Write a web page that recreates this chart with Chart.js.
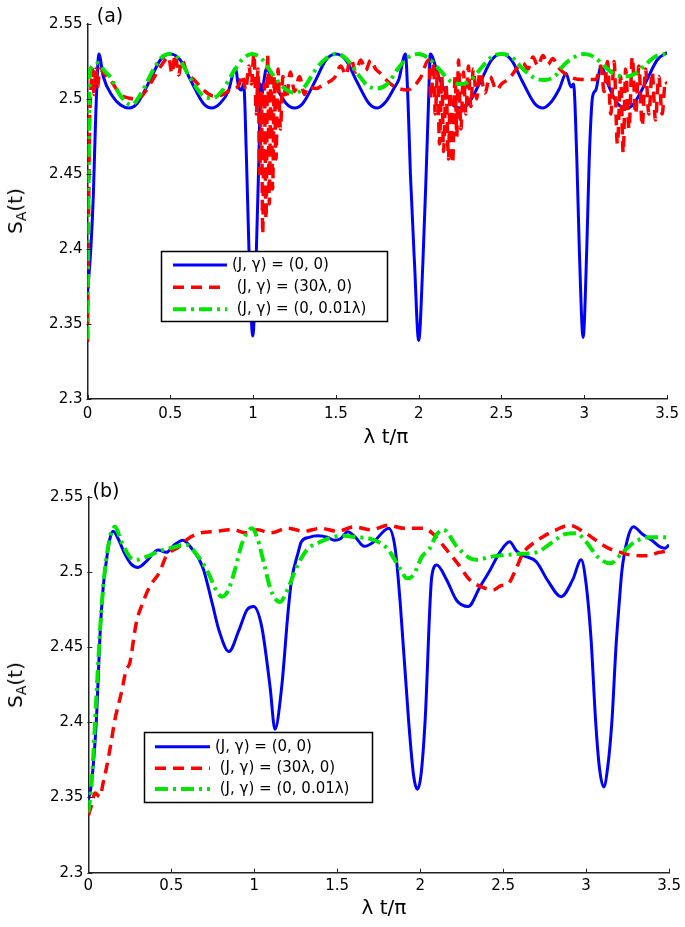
<!DOCTYPE html>
<html>
<head>
<meta charset="utf-8">
<script src="https://cdn.jsdelivr.net/npm/chart.js@4.4.0/dist/chart.umd.min.js"></script>
<style>
  body { margin: 0; background: #fff; width: 685px; height: 927px; position: relative; overflow: hidden; font-family: "DejaVu Sans", sans-serif; }
  canvas { position: absolute; left: 0; }
  .lbl { position: absolute; color: #000; white-space: nowrap; transform: translate(-50%, -50%); }
  .ylab { transform: translate(-50%, -50%) rotate(-90deg); font-size: 20px; }
  .ylab sub { font-size: 14px; vertical-align: -4px; }
</style>
</head>
<body>
<canvas id="chartA" width="685" height="460" style="top:0"></canvas>
<canvas id="chartB" width="685" height="467" style="top:460px"></canvas>

<div class="lbl" style="left:110px;top:15px;font-size:19px">(a)</div>
<div class="lbl" style="left:106px;top:490px;font-size:19px">(b)</div>
<div class="lbl" style="left:386px;top:436px;font-size:20px">λ t/π</div>
<div class="lbl" style="left:384px;top:907px;font-size:20px">λ t/π</div>
<div class="lbl ylab" style="left:16px;top:211px">S<sub>A</sub>(t)</div>
<div class="lbl ylab" style="left:16px;top:685px">S<sub>A</sub>(t)</div>

<script>
// axis ticks
const xTicks = [0, 0.5, 1, 1.5, 2, 2.5, 3, 3.5];
const xTickLabels = ['0', '0.5', '1', '1.5', '2', '2.5', '3', '3.5'];
const yTicks = [2.3, 2.35, 2.4, 2.45, 2.5, 2.55];
const yTickLabels = ['2.3', '2.35', '2.4', '2.45', '2.5', '2.55'];

const seriesLabels = ['(J, γ) = (0, 0)', ' (J, γ) = (30λ, 0)', ' (J, γ) = (0, 0.01λ)'];

// panel (a)
const aBlueT = [0, 0.02, 0.035, 0.05, 0.069, 0.095, 0.15, 0.2, 0.25, 0.3, 0.375, 0.44, 0.5, 0.56, 0.625, 0.7, 0.75, 0.8, 0.85,
  0.893, 0.913, 0.93, 0.943, 0.96, 0.975, 0.998, 1.02, 1.035, 1.045, 1.055, 1.065, 1.08, 1.13, 1.2, 1.25, 1.3, 1.375, 1.44, 1.5,
  1.56, 1.625, 1.7, 1.75, 1.8, 1.85, 1.88, 1.92, 1.935, 1.95, 1.975, 2.0, 2.025, 2.045, 2.06, 2.07, 2.12, 2.2, 2.25, 2.3, 2.375,
  2.44, 2.5, 2.56, 2.625, 2.7, 2.75, 2.8, 2.85, 2.89, 2.92, 2.935, 2.955, 2.97, 2.993, 3.015, 3.03, 3.05, 3.07, 3.1, 3.15, 3.2,
  3.26, 3.3, 3.375, 3.44, 3.5];
const aBlueS = [2.37, 2.40, 2.435, 2.49, 2.530, 2.515, 2.502, 2.496, 2.494, 2.497, 2.512, 2.526, 2.530, 2.526, 2.512, 2.497, 2.494, 2.497, 2.505,
  2.5205, 2.508, 2.506, 2.51, 2.46, 2.40, 2.342, 2.40, 2.46, 2.51, 2.503, 2.512, 2.52, 2.51, 2.497, 2.494, 2.497, 2.512, 2.526, 2.530,
  2.526, 2.512, 2.497, 2.494, 2.498, 2.507, 2.513, 2.530, 2.50, 2.45, 2.39, 2.339, 2.39, 2.45, 2.50, 2.530, 2.515, 2.497, 2.494, 2.497, 2.512,
  2.526, 2.530, 2.526, 2.512, 2.497, 2.494, 2.498, 2.507, 2.517, 2.508, 2.51, 2.46, 2.40, 2.341, 2.40, 2.46, 2.5015, 2.506, 2.5215, 2.508, 2.497,
  2.494, 2.497, 2.512, 2.526, 2.531];

const aRedT = [0, 0.006, 0.012, 0.02, 0.03, 0.04, 0.05, 0.06, 0.075, 0.1, 0.135, 0.2, 0.254, 0.3, 0.35, 0.4, 0.45, 0.49, 0.51, 0.53,
  0.55, 0.57, 0.6, 0.65, 0.7, 0.76, 0.813, 0.86, 0.913, 0.935, 0.955, 0.975, 0.99, 1.005, 1.02, 1.03, 1.04, 1.05, 1.058, 1.068,
  1.078, 1.088, 1.098, 1.108, 1.118, 1.128, 1.138, 1.15, 1.165, 1.18, 1.2, 1.225, 1.25, 1.28, 1.31, 1.33, 1.38, 1.43, 1.49, 1.53,
  1.56, 1.59, 1.62, 1.65, 1.68, 1.71, 1.74, 1.77, 1.82, 1.86, 1.93, 2.01, 2.06, 2.075, 2.09, 2.1, 2.115, 2.125, 2.14, 2.15,
  2.165, 2.18, 2.19, 2.205, 2.22, 2.23, 2.24, 2.255, 2.27, 2.285, 2.3, 2.315, 2.33, 2.35, 2.37, 2.4, 2.43, 2.47, 2.5, 2.55,
  2.59, 2.63, 2.66, 2.69, 2.72, 2.75, 2.78, 2.81, 2.84, 2.91, 2.99, 3.07, 3.1, 3.12, 3.14, 3.16, 3.18, 3.2, 3.22, 3.235,
  3.25, 3.27, 3.29, 3.31, 3.33, 3.35, 3.37, 3.39, 3.41, 3.43, 3.45, 3.47, 3.49, 3.5];
const aRedS = [2.338, 2.42, 2.48, 2.505, 2.52, 2.503, 2.52, 2.508, 2.52, 2.517, 2.513, 2.503, 2.5005, 2.5, 2.505, 2.514, 2.523, 2.528, 2.517, 2.53,
  2.516, 2.526, 2.518, 2.512, 2.506, 2.502, 2.5027, 2.506, 2.509, 2.516, 2.506, 2.522, 2.51, 2.53, 2.49, 2.52, 2.45, 2.505, 2.41, 2.51,
  2.42, 2.53, 2.43, 2.52, 2.44, 2.515, 2.46, 2.52, 2.48, 2.515, 2.5, 2.518, 2.505, 2.515, 2.503, 2.508, 2.507, 2.51, 2.514, 2.522,
  2.516, 2.527, 2.518, 2.526, 2.519, 2.526, 2.52, 2.517, 2.511, 2.508, 2.506, 2.514, 2.526, 2.50, 2.524, 2.49, 2.52, 2.47, 2.515, 2.465,
  2.51, 2.46, 2.505, 2.457, 2.515, 2.475, 2.526, 2.48, 2.518, 2.49, 2.522, 2.495, 2.52, 2.5, 2.518, 2.504, 2.515, 2.506, 2.51, 2.514,
  2.52, 2.524, 2.52, 2.528, 2.522, 2.529, 2.523, 2.527, 2.5215, 2.515, 2.513, 2.513, 2.522, 2.505, 2.525, 2.49, 2.525, 2.47, 2.515, 2.464,
  2.52, 2.48, 2.528, 2.49, 2.522, 2.482, 2.52, 2.49, 2.518, 2.486, 2.515, 2.49, 2.512, 2.51];

const aGreenT = [0, 0.005, 0.01, 0.015, 0.04, 0.065, 0.1, 0.135, 0.2, 0.265, 0.33, 0.4, 0.45, 0.494, 0.55, 0.62, 0.69, 0.753, 0.81,
  0.88, 0.94, 0.993, 1.05, 1.12, 1.19, 1.253, 1.31, 1.38, 1.44, 1.5, 1.56, 1.63, 1.69, 1.75, 1.81, 1.88, 1.94, 2.0, 2.06, 2.13,
  2.19, 2.25, 2.31, 2.38, 2.44, 2.5, 2.56, 2.63, 2.7, 2.76, 2.82, 2.88, 2.94, 3.0, 3.06, 3.13, 3.19, 3.25, 3.31, 3.38, 3.44, 3.5];
const aGreenS = [2.34, 2.42, 2.49, 2.519, 2.522, 2.524, 2.519, 2.515, 2.502, 2.496, 2.505, 2.52, 2.528, 2.53, 2.527, 2.514, 2.503, 2.5005, 2.505,
  2.518, 2.527, 2.53, 2.527, 2.516, 2.507, 2.504, 2.508, 2.52, 2.527, 2.53, 2.527, 2.517, 2.509, 2.507, 2.51, 2.521, 2.528, 2.53, 2.527, 2.519,
  2.512, 2.51, 2.512, 2.521, 2.528, 2.53, 2.528, 2.52, 2.514, 2.5127, 2.515, 2.523, 2.528, 2.53, 2.528, 2.521, 2.516, 2.515, 2.517, 2.524, 2.529, 2.53];

// panel (b)
const bBlueT = [0, 0.02, 0.05, 0.07, 0.09, 0.106, 0.13, 0.15, 0.18, 0.22, 0.26, 0.3, 0.35, 0.42, 0.47, 0.52, 0.57, 0.62, 0.69,
  0.747, 0.787, 0.847, 0.907, 0.956, 0.996, 1.045, 1.096, 1.125, 1.165, 1.205, 1.225, 1.265, 1.284, 1.33, 1.384, 1.44, 1.484,
  1.52, 1.563, 1.61, 1.663, 1.72, 1.78, 1.81, 1.85, 1.88, 1.93, 1.96, 1.983, 2.005, 2.03, 2.07, 2.1, 2.16, 2.22, 2.29, 2.36,
  2.42, 2.48, 2.539, 2.58, 2.62, 2.7, 2.77, 2.85, 2.92, 2.97, 3.0, 3.03, 3.057, 3.08, 3.106, 3.13, 3.156, 3.18, 3.2, 3.216,
  3.25, 3.285, 3.34, 3.396, 3.44, 3.475, 3.5];
const bBlueS = [2.348, 2.36, 2.404, 2.457, 2.49, 2.505, 2.522, 2.527, 2.522, 2.512, 2.505, 2.503, 2.507, 2.5145, 2.513, 2.518, 2.521, 2.516, 2.503,
  2.479, 2.4614, 2.447, 2.461, 2.4747, 2.477, 2.4636, 2.423, 2.3953, 2.423, 2.4747, 2.4946, 2.513, 2.52, 2.523, 2.524, 2.523, 2.521,
  2.522, 2.5267, 2.523, 2.517, 2.52, 2.527, 2.529, 2.515, 2.479, 2.4015, 2.365, 2.3555, 2.365, 2.4015, 2.497, 2.5046, 2.4946, 2.481, 2.477, 2.49,
  2.501, 2.513, 2.52, 2.514, 2.511, 2.5068, 2.494, 2.4835, 2.495, 2.508, 2.492, 2.455, 2.4015, 2.37, 2.357, 2.37, 2.4015, 2.45, 2.48, 2.501,
  2.522, 2.53, 2.525, 2.521, 2.517, 2.5157, 2.518];

const bRedT = [0, 0.02, 0.04, 0.07, 0.09, 0.11, 0.135, 0.16, 0.2, 0.229, 0.249, 0.289, 0.33, 0.369, 0.43, 0.468, 0.548, 0.6, 0.667,
  0.77, 0.87, 0.95, 1.02, 1.1, 1.2, 1.3, 1.4, 1.5, 1.6, 1.7, 1.81, 1.9, 2.02, 2.08, 2.16, 2.23, 2.3, 2.37, 2.44, 2.49, 2.53,
  2.57, 2.62, 2.68, 2.74, 2.82, 2.9, 2.98, 3.06, 3.13, 3.196, 3.28, 3.37, 3.44, 3.5];
const bRedS = [2.338, 2.345, 2.353, 2.3505, 2.36, 2.37, 2.385, 2.4015, 2.42, 2.435, 2.439, 2.466, 2.48, 2.49, 2.5, 2.51, 2.5168, 2.522, 2.5257,
  2.527, 2.528, 2.526, 2.528, 2.526, 2.529, 2.527, 2.529, 2.527, 2.53, 2.528, 2.531, 2.529, 2.529, 2.525, 2.5146, 2.505, 2.4946, 2.49, 2.488, 2.491, 2.492,
  2.5, 2.5124, 2.519, 2.5234, 2.528, 2.531, 2.527, 2.521, 2.516, 2.5134, 2.511, 2.5107, 2.513, 2.514];

const bGreenT = [0, 0.02, 0.05, 0.07, 0.09, 0.11, 0.135, 0.16, 0.2, 0.25, 0.289, 0.35, 0.43, 0.5, 0.59, 0.65, 0.72, 0.77, 0.806,
  0.84, 0.88, 0.93, 0.986, 1.02, 1.06, 1.1, 1.155, 1.2, 1.255, 1.32, 1.4, 1.47, 1.54, 1.62, 1.7, 1.8, 1.88, 1.92, 1.96, 2.01,
  2.06, 2.1, 2.14, 2.22, 2.3, 2.34, 2.42, 2.49, 2.6, 2.7, 2.8, 2.87, 2.94, 3.0, 3.07, 3.146, 3.22, 3.296, 3.38, 3.5];
const bGreenS = [2.34, 2.36, 2.42, 2.46, 2.49, 2.51, 2.525, 2.53, 2.52, 2.51, 2.508, 2.51, 2.514, 2.516, 2.518, 2.512, 2.5, 2.488, 2.4835,
  2.487, 2.5, 2.52, 2.529, 2.522, 2.505, 2.488, 2.48, 2.488, 2.503, 2.515, 2.52, 2.523, 2.524, 2.523, 2.522, 2.5157, 2.502, 2.4957, 2.498, 2.51,
  2.516, 2.525, 2.528, 2.517, 2.509, 2.508, 2.51, 2.511, 2.512, 2.513, 2.52, 2.525, 2.5257, 2.52, 2.51, 2.5057, 2.513, 2.52, 2.523, 2.523];

function pts(ts, ss) {
  return ts.map((t, i) => ({ x: t, y: ss[i] }));
}

function makeDatasets(blue, red, green) {
  return [
    { data: pts(blue[0], blue[1]), borderColor: '#0000ff', borderWidth: 3, order: 2 },
    { data: pts(red[0], red[1]), borderColor: '#ff0000', borderWidth: 3.5, borderDash: [11, 7], order: 1 },
    { data: pts(green[0], green[1]), borderColor: '#00e600', borderWidth: 4, borderDash: [13, 5, 3, 5], order: 0 }
  ];
}

// inward tick marks like the original
const innerTicks = {
  id: 'innerTicks',
  afterDraw(chart) {
    const { ctx, chartArea: a, scales: { x, y } } = chart;
    ctx.save();
    ctx.strokeStyle = '#222';
    ctx.lineWidth = 1;
    ctx.beginPath();
    x.ticks.forEach(t => {
      const px = Math.round(x.getPixelForValue(t.value)) + 0.5;
      ctx.moveTo(px, a.bottom);
      ctx.lineTo(px, a.bottom - 4);
    });
    y.ticks.forEach(t => {
      const py = Math.round(y.getPixelForValue(t.value)) + 0.5;
      ctx.moveTo(a.left - 1, py);
      ctx.lineTo(a.left + 4, py);
    });
    ctx.stroke();
    ctx.restore();
  }
};

// legend box drawn inside the plot
const boxLegend = {
  id: 'boxLegend',
  afterDraw(chart, args, opts) {
    const ctx = chart.ctx;
    ctx.save();
    ctx.fillStyle = '#fff';
    ctx.fillRect(opts.x, opts.y, opts.w, opts.h);
    ctx.strokeStyle = '#000';
    ctx.lineWidth = 1.5;
    ctx.strokeRect(opts.x, opts.y, opts.w, opts.h);
    ctx.font = '15px "DejaVu Sans"';
    ctx.textBaseline = 'middle';
    chart.data.datasets.forEach((ds, i) => {
      const ry = opts.rows[i];
      ctx.strokeStyle = ds.borderColor;
      ctx.lineWidth = ds.borderWidth;
      ctx.setLineDash(ds.borderDash || []);
      ctx.beginPath();
      ctx.moveTo(opts.sx, ry);
      ctx.lineTo(opts.sx + opts.sw, ry);
      ctx.stroke();
      ctx.setLineDash([]);
      ctx.fillStyle = '#000';
      ctx.fillText(seriesLabels[i], opts.tx, ry);
    });
    ctx.restore();
  }
};

function makePanel(id, datasets, frame, legendOpts) {
  const canvas = document.getElementById(id);
  return new Chart(canvas.getContext('2d'), {
    type: 'line',
    data: { datasets: datasets },
    options: {
      responsive: false,
      animation: false,
      devicePixelRatio: 1,
      layout: { padding: { top: frame.top, right: canvas.width - frame.right, left: 0, bottom: 0 } },
      elements: {
        point: { radius: 0 },
        line: { cubicInterpolationMode: 'monotone', borderCapStyle: 'butt', fill: false }
      },
      scales: {
        x: {
          type: 'linear', min: 0, max: 3.5,
          grid: { display: false, drawTicks: false },
          border: { display: true, color: '#222', width: 1.5 },
          afterBuildTicks: s => { s.ticks = xTicks.map(v => ({ value: v })); },
          afterFit: s => { s.height = canvas.height - frame.bottom; },
          ticks: {
            autoSkip: false, maxRotation: 0, padding: frame.xPad, color: '#000',
            font: { family: 'DejaVu Sans', size: 15 },
            callback: (v, i) => xTickLabels[i]
          }
        },
        y: {
          type: 'linear', min: 2.3, max: 2.55,
          grid: { display: false, drawTicks: false },
          border: { display: true, color: '#222', width: 1.5 },
          afterBuildTicks: s => { s.ticks = yTicks.map(v => ({ value: v })); },
          afterFit: s => { s.width = frame.left; },
          ticks: {
            autoSkip: false, padding: 5, color: '#000',
            font: { family: 'DejaVu Sans', size: 15 },
            callback: (v, i) => yTickLabels[i]
          }
        }
      },
      plugins: {
        legend: { display: false },
        tooltip: { enabled: false },
        boxLegend: legendOpts
      }
    },
    plugins: [innerTicks, boxLegend]
  });
}

makePanel('chartA',
  makeDatasets([aBlueT, aBlueS], [aRedT, aRedS], [aGreenT, aGreenS]),
  { left: 87.5, right: 672, top: 24, bottom: 399, xPad: 6 },
  { x: 161.5, y: 251.5, w: 226, h: 70, rows: [265, 287.3, 309.3], sx: 173, sw: 54, tx: 232 });

makePanel('chartB',
  makeDatasets([bBlueT, bBlueS], [bRedT, bRedS], [bGreenT, bGreenS]),
  { left: 88.3, right: 674, top: 36.7, bottom: 412.7, xPad: 4 },
  { x: 144.5, y: 272.5, w: 228, h: 70, rows: [286.7, 308.3, 329], sx: 155, sw: 55, tx: 215 });
</script>
</body>
</html>
